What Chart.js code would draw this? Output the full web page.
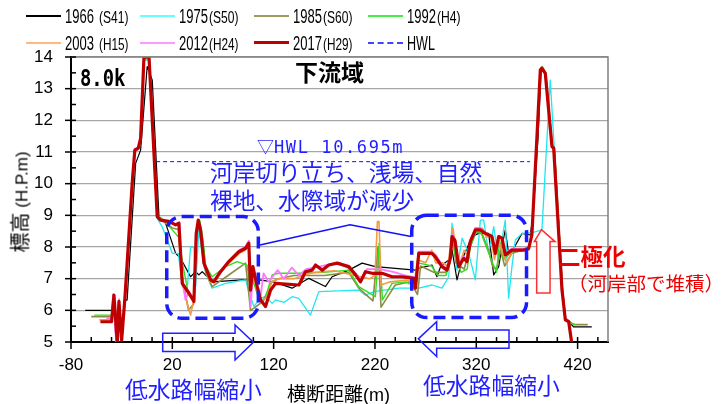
<!DOCTYPE html>
<html>
<head>
<meta charset="utf-8">
<script src="https://cdn.jsdelivr.net/npm/chart.js@4.4.1/dist/chart.umd.min.js"></script>
<style>
html, body { margin: 0; padding: 0; background: #fff; }
#wrap { position: relative; width: 727px; height: 404px; overflow: hidden; font-family: "Noto Sans CJK JP", sans-serif; }
#chart { position: absolute; left: 0; top: 0; }
.t { position: absolute; white-space: nowrap; line-height: 1; }
.lg { position: absolute; height: 0; }
.lgt { position: absolute; white-space: nowrap; line-height: 1; font-family: "Liberation Sans", sans-serif; color: #000; transform-origin: 0 50%; }
.blue { color: #1f1fff; }
.red { color: #ee0000; }
</style>
</head>
<body>
<div id="wrap">
  <canvas id="chart" width="727" height="404"></canvas>
  <div id="legend"></div>
  <div class="t" style="left:80px;top:65px;font:bold 23px 'DejaVu Sans Mono',monospace;transform:scaleX(0.82);transform-origin:0 0;">8.0k</div>
  <div class="t" style="left:295px;top:60px;font-weight:bold;font-size:23px;">下流域</div>
  <div class="t blue" style="left:257px;top:137px;font-size:17px;"><span>▽</span><span style="font-family:'DejaVu Sans Mono',monospace;letter-spacing:1.6px;">HWL 10.695m</span></div>
  <div class="t blue" style="left:210px;top:161px;font-size:22.7px;">河岸切り立ち、浅場、自然</div>
  <div class="t blue" style="left:210px;top:189px;font-size:22.7px;">裸地、水際域が減少</div>
  <div class="t blue" style="left:125px;top:378px;font-size:22.8px;">低水路幅縮小</div>
  <div class="t blue" style="left:423px;top:374px;font-size:22.8px;">低水路幅縮小</div>
  <div class="t" style="left:287px;top:383px;font-size:19px;">横断距離<span style="font-family:'Liberation Sans',sans-serif;font-size:18px;">(m)</span></div>
  <div class="t red" style="left:558px;top:244px;font-weight:bold;font-size:22.5px;">二極化</div>
  <div class="t red" style="left:568px;top:273px;font-size:19.5px;">（河岸部で堆積）</div>
  <div class="t" style="left:20px;top:202px;transform:translate(-50%,-50%) rotate(-90deg);"><span style="font-size:20px;">標高</span><span style="font-family:'Liberation Sans',sans-serif;font-size:17px;"> (H.P.m)</span></div>
</div>
<script>
// ===========================
// Data
// ===========================

const years = ['1966', '1975', '1985', '1992', '2003', '2012', '2017'];
const eras = ['(S41)', '(S50)', '(S60)', '(H4)', '(H15)', '(H24)', '(H29)'];

const xTicks = [-80, 20, 120, 220, 320, 420];
const yTicks = [5, 6, 7, 8, 9, 10, 11, 12, 13, 14];

// [distance m, elevation H.P.m]
const s1966 = [[-66,6.0],[-39.5,6.0],[-38,6.4],[-35,5.0],[-32.5,6.3],[-30,5.1],[-27,6.3],[-24.6,6.33],[-16.2,10.64],[-11.3,11.06],[-4.8,13.7],[0.2,13.27],[6.8,8.96],[13.4,8.75],[16.7,8.43],[23.3,7.8],[28.2,7.64],[38,7.06],[43,7.22],[46.2,7.12],[49.5,7.22],[59.3,6.9],[88.9,6.96],[105.4,6.96],[120,6.9],[138.2,6.7],[154.7,7.01],[171.1,6.75],[177.7,7.06],[194.2,7.27],[207.3,7.49],[220.4,7.38],[259.9,7.27],[263.2,7.33],[276.3,7.43],[281.2,7.06],[285,7.4],[292.8,7.59],[296.1,7.9],[301,6.96],[306,7.6],[315.8,8.33],[322.4,8.43],[332.2,8.43],[337.2,7.12],[342.1,7.38],[345.4,8.01],[348.6,8.54],[351.9,7.8],[356,7.9],[365.1,8.43],[373.3,8.38],[376,9.0],[381,11.5],[384,13.6],[388,13.5],[394.7,11.2],[397,11.1],[405,6.7],[408,5.75],[416,5.48],[434,5.48]];

const s1975 = [[-40,5.9],[-38,6.4],[-35,5.0],[-32.5,6.3],[-30,5.1],[-27,6.4],[-20,10.0],[-17,11.0],[-13,11.1],[-11,11.4],[-8,13.9],[-3,13.9],[5,8.9],[10,8.64],[20,7.8],[26,7.8],[29.8,6.75],[35,6.8],[38,8.0],[41.3,8.0],[43,6.75],[46.2,8.54],[51.2,7.38],[54.4,7.06],[59.3,6.7],[72.5,6.85],[92.3,6.96],[95.5,6.59],[100.5,6.12],[105.4,6.33],[112,6.45],[118.5,6.22],[121.9,6.33],[130,6.25],[138.2,6.43],[144.8,6.38],[156.3,5.85],[164.6,6.59],[204,6.64],[210.6,6.48],[220,6.6],[243.5,6.7],[263.2,6.7],[276.3,6.8],[286.2,6.7],[292.8,7.06],[296.1,8.75],[301,7.27],[306,8.28],[312.5,7.8],[319.1,6.96],[324,8.85],[327.3,8.85],[332.2,7.8],[337.2,8.64],[342,7.6],[348.6,8.85],[351.9,6.38],[355.2,7.38],[358.5,8.22],[365.1,8.43],[375,8.45],[384.8,8.54],[393,13.27],[397,11.1],[405,6.7],[408,5.7],[414,5.6]];

const s1985 = [[-60,5.8],[-40,5.8],[-38,6.45],[-35.3,5.0],[-32.7,6.3],[-30,5.1],[-26.5,6.5],[-19.5,10.1],[-17,11.05],[-13.6,11.1],[-11.3,11.45],[-8,13.95],[-3,13.95],[5,8.95],[10,8.85],[20,8.6],[26,8.55],[30,7.0],[36,6.0],[41,6.2],[44,8.4],[47,8.7],[50,8.2],[53,7.2],[59.3,6.75],[75,7.1],[92.3,7.49],[97.2,6.0],[102,6.1],[110,6.3],[118,6.9],[125,7.0],[140,7.1],[170,7.1],[194,7.2],[204,6.7],[218,6.3],[223,8.0],[226,6.1],[232,6.4],[240,6.8],[255,6.9],[262,6.5],[265,7.4],[278,7.2],[290,7.2],[294,7.5],[296,8.4],[300,7.5],[308,7.3],[314,8.0],[320,8.5],[326,8.4],[332,7.9],[336,7.4],[340,7.3],[344,7.9],[348,7.4],[355,7.8],[366,7.9],[372,8.0],[375,8.4],[380,11.5],[383.5,13.65],[385,13.7],[388.5,13.5],[395,11.2],[397,11.15],[405,6.7],[408,5.75],[416,5.55],[430,5.55]];

const s1992 = [[-57,5.85],[-40,5.85],[-38,6.45],[-35.3,5.0],[-32.7,6.3],[-30,5.1],[-26.5,6.5],[-19.5,10.1],[-17,11.05],[-13.6,11.1],[-11.3,11.45],[-8,13.95],[-3,13.95],[5,9.0],[10,8.9],[20,8.54],[26.5,8.3],[30,7.5],[36,6.5],[41,6.3],[44,8.5],[47,8.85],[50,8.3],[53,7.4],[59.3,7.06],[72.5,7.38],[84,7.54],[93.9,7.43],[97,6.6],[100,6.9],[104,6.5],[108,6.3],[112,6.4],[118.5,7.12],[125,7.17],[144.8,7.17],[170,7.2],[194.2,7.27],[204,6.75],[220.4,6.43],[224.1,8.12],[227.4,6.33],[236.9,6.85],[250,6.9],[260,6.75],[263,7.5],[276,7.4],[282,7.1],[290,7.1],[294,7.5],[296,8.45],[300,7.6],[305,7.2],[311,7.3],[314,8.0],[319,8.45],[324,8.5],[330,8.0],[336,7.5],[340,7.2],[343,8.2],[347,7.6],[355,7.85],[366,7.9],[372,8.0],[375,8.4],[380,11.5],[383.5,13.6],[385,13.64],[388.5,13.5],[395,11.2],[397,11.1],[405,6.7],[408,5.7],[412,5.6],[418,5.55]];

const s2003 = [[-52,5.7],[-40,5.7],[-38,6.45],[-35.3,5.0],[-32.7,6.3],[-30,5.1],[-26.5,6.5],[-19.5,10.06],[-17,11.06],[-13.6,11.12],[-11.3,11.43],[-8,14],[-3,14],[5,8.95],[10,8.85],[20,8.75],[26,8.7],[29,7.0],[34,6.3],[38,5.85],[41,6.3],[43.6,8.4],[45.6,8.8],[48,8.45],[51,7.5],[57,6.9],[61,6.9],[68,7.2],[76,7.5],[86,7.8],[92,7.9],[95.5,8.05],[97.2,6.5],[100,7.1],[104,6.6],[108,6.3],[113,6.4],[118,6.9],[125,7.0],[140,7.0],[160,7.2],[180,7.25],[200,7.1],[215,7.0],[220,7.1],[222.4,8.8],[224,8.8],[226,6.8],[235,6.9],[250,6.95],[259,6.9],[262,7.6],[270,7.5],[276,7.9],[280,7.5],[287,7.5],[292,7.4],[295,8.2],[297,8.6],[300,7.9],[304,7.5],[308,7.9],[312,7.7],[315,8.3],[320,8.5],[326,8.6],[330,8.3],[334,8.4],[338,7.6],[342,8.2],[346,7.8],[350,7.5],[356,7.9],[366,7.9],[372,7.9],[375,8.4],[380,11.5],[383,13.6],[385,13.64],[388,13.5],[395,11.17],[397,11.1],[405,6.65],[408,5.7],[412,5.6]];

const s2012 = [[-45,5.75],[-40,5.75],[-38.5,6.5],[-35.5,5.0],[-32.5,6.35],[-30,5.1],[-27,6.3],[-26,6.6],[-19.5,10.1],[-17,11.1],[-13.6,11.15],[-11.3,11.45],[-8,14],[-3,14],[5,9.0],[8.4,8.88],[17,8.83],[23.3,8.72],[27,8.78],[30,6.9],[33,6.33],[36.4,6.6],[41.3,6.35],[43.6,8.45],[45.6,8.85],[48,8.55],[51,7.5],[58,6.98],[61,6.95],[68,7.25],[76,7.58],[86,7.9],[92,8.0],[95.5,8.2],[97.2,6.1],[100,7.3],[104,6.8],[107,6.4],[110,7.17],[115,6.9],[124,7.27],[130,7.0],[138,7.35],[145,7.1],[152,7.3],[160,7.35],[175,7.45],[185,7.5],[200,7.2],[206,7.0],[212,7.3],[225,7.3],[240,7.2],[250,7.1],[259,7.05],[260.5,6.8],[263,7.85],[276,7.85],[280,7.75],[286,7.45],[291,7.3],[294.4,7.7],[296.1,8.4],[299,8.25],[302.6,7.45],[307.6,7.7],[311,7.6],[314,8.2],[319,8.6],[324,8.6],[329,8.45],[335.5,8.35],[338.8,7.85],[342,8.35],[345.4,8.3],[348.6,7.8],[355,7.95],[366.7,7.95],[372,8.0],[375,8.4],[380,11.5],[383.2,13.6],[384.8,13.65],[388,13.5],[394.7,11.2],[396.4,11.15],[404.6,6.7],[408,5.75],[411,5.65]];

const s2017 = [[-51,5.64],[-40,5.64],[-37.6,6.48],[-34.3,4.96],[-32.7,6.28],[-30,5.06],[-26.7,6.43],[-19.5,10.06],[-17,11.06],[-13.6,11.12],[-11.3,11.43],[-8,14.0],[-3,14.0],[5.1,8.96],[8.4,8.85],[17,8.8],[23.3,8.7],[26.5,8.75],[29.8,6.85],[36.4,6.54],[41.3,6.28],[43.6,8.43],[45.6,8.85],[47.9,8.54],[51.2,7.49],[57.8,6.96],[61,6.9],[67.6,7.22],[75.8,7.54],[85.7,7.85],[92.3,7.96],[95.5,8.12],[97.2,6.64],[99.5,7.38],[103.8,6.75],[107.1,6.33],[112,6.12],[117,6.64],[121.9,6.85],[145,6.8],[151.4,7.22],[158,7.27],[161.3,7.43],[168,7.27],[174.4,7.43],[182.6,7.49],[194.2,7.38],[200.8,7.12],[205.7,6.9],[210.6,7.22],[217.2,7.17],[227,7.17],[236.9,7.06],[246.8,7.06],[258.3,7.01],[260,6.7],[263.2,7.8],[276.3,7.8],[279.6,7.69],[286.2,7.38],[291.1,7.27],[294.4,7.64],[296.1,8.33],[299,8.2],[302.6,7.38],[307.6,7.64],[310.8,7.54],[314.1,8.17],[319.1,8.54],[324,8.54],[329,8.43],[335.5,8.33],[338.8,7.8],[342.1,8.33],[345.4,8.28],[348.6,7.75],[355.2,7.9],[366.7,7.9],[371.7,7.96],[374.9,8.38],[379.9,11.5],[383.2,13.59],[384.8,13.64],[388.1,13.48],[394.7,11.17],[396.4,11.12],[404.6,6.64],[407.9,5.7],[411.2,5.64],[414.5,4.9]];

const hwlX = [4, 373];
const hwlLevel = 10.695;

// ===========================
// Styles
// ===========================

const seriesData = [s1966, s1975, s1985, s1992, s2003, s2012, s2017];
const lineColors = ['#000000', '#22e6f0', '#8c8c46', '#33dd22', '#f39a45', '#ff77ff', '#c00000'];
const legendColors = ['#000000', '#66ffff', '#9b9b63', '#44ee44', '#ffb880', '#ff99ff', '#c00000'];
const lineWidths = [1.2, 1.3, 1.6, 1.4, 1.6, 1.8, 3.2];
const hwlColor = '#1010ff';

// annotation shapes, in data coordinates
const boxes = [
    { x0: 14.5, x1: 104.9, y0: 8.96, y1: 5.75 },
    { x0: 256.3, x1: 369.6, y0: 9.0, y1: 5.77 }
];
const linkPath = [[106.5, 8.06], [195.4, 8.70], [255.6, 8.33]];

// ===========================
// Legend
// ===========================

// place a text at (left, centre y) squeezed to a given width
function fitText(parent, text, left, cy, size, width) {
    const d = document.createElement('div');
    d.className = 'lgt';
    d.style.fontSize = size + 'px';
    d.textContent = text;
    parent.appendChild(d);
    const w = d.getBoundingClientRect().width;
    const h = d.getBoundingClientRect().height;
    d.style.left = left + 'px';
    d.style.top = (cy - h / 2) + 'px';
    d.style.transform = 'scaleX(' + (width / w) + ')';
}

function buildLegend() {
    const el = document.getElementById('legend');
    const colX = [26, 140, 254, 368];
    const rowY = [16, 43];
    const items = years.map((y, i) => ({ text: y, era: eras[i], color: legendColors[i], width: i === 6 ? 3.5 : 2.5, dash: false }));
    items.push({ text: 'HWL', era: '', color: '#4444ff', width: 2, dash: true });
    items.forEach((it, i) => {
        const cx = colX[i % 4], cy = rowY[Math.floor(i / 4)];
        const line = document.createElement('div');
        line.className = 'lg';
        line.style.left = cx + 'px';
        line.style.top = (cy - it.width / 2) + 'px';
        line.style.width = '35px';
        line.style.borderTop = it.width + 'px ' + (it.dash ? 'dashed ' : 'solid ') + it.color;
        el.appendChild(line);
        const gap = (i === 0 || i === 4) ? 5 : 1;
        fitText(el, it.text, cx + 39, cy, 20, it.era ? 29 : 28);
        if (it.era) {
            fitText(el, it.era, cx + 39 + 29 + gap, cy + 1, 16.5, it.era.length * 5.9);
        }
    });
}

// ===========================
// Decorations plugin
// ===========================

const decor = {
    id: 'decor',
    afterDraw(chart) {
        const { ctx, chartArea: a, scales: { x, y } } = chart;
        const X = v => x.getPixelForValue(v);
        const Y = v => y.getPixelForValue(v);
        ctx.save();

        // frame top / right
        ctx.strokeStyle = '#808080';
        ctx.lineWidth = 1.5;
        ctx.beginPath();
        ctx.moveTo(a.left, a.top);
        ctx.lineTo(a.right, a.top);
        ctx.lineTo(a.right, a.bottom);
        ctx.stroke();

        // tick marks
        ctx.strokeStyle = '#000';
        ctx.lineWidth = 1.5;
        for (let v = 5; v <= 14; v += 0.5) {
            const py = Y(v);
            ctx.beginPath();
            ctx.moveTo(a.left - (v % 1 ? 0 : 6), py);
            ctx.lineTo(a.left + 5, py);
            ctx.stroke();
        }
        for (let v = -80; v <= 440; v += 20) {
            const px = X(v);
            const major = (v + 80) % 100 === 0;
            ctx.beginPath();
            ctx.moveTo(px, a.bottom - 5);
            ctx.lineTo(px, a.bottom + (major ? 7 : 0));
            ctx.stroke();
        }

        // link lines from the text to the boxes
        ctx.strokeStyle = '#1010ff';
        ctx.lineWidth = 1.5;
        ctx.beginPath();
        linkPath.forEach((p, i) => i ? ctx.lineTo(X(p[0]), Y(p[1])) : ctx.moveTo(X(p[0]), Y(p[1])));
        ctx.stroke();

        // dashed rounded boxes
        ctx.strokeStyle = '#1a1aff';
        ctx.lineWidth = 3.5;
        ctx.setLineDash([12, 6]);
        boxes.forEach(b => {
            ctx.beginPath();
            ctx.roundRect(X(b.x0), Y(b.y0), X(b.x1) - X(b.x0), Y(b.y1) - Y(b.y0), 15);
            ctx.stroke();
        });
        ctx.setLineDash([]);

        // hollow arrows
        const arrow = (pts, stroke, fill) => {
            ctx.beginPath();
            pts.forEach((p, i) => i ? ctx.lineTo(X(p[0]), Y(p[1])) : ctx.moveTo(X(p[0]), Y(p[1])));
            ctx.closePath();
            if (fill) { ctx.fillStyle = fill; ctx.fill(); }
            ctx.strokeStyle = stroke;
            ctx.lineWidth = 1.5;
            ctx.stroke();
        };
        arrow([[10.5, 5.28], [81.9, 5.28], [81.9, 5.54], [100, 4.99], [81.9, 4.43], [81.9, 4.70], [10.5, 4.70]], '#2020ff');
        arrow([[352.3, 5.38], [280.9, 5.38], [280.9, 5.64], [262.8, 5.10], [280.9, 4.54], [280.9, 4.80], [352.3, 4.80]], '#2020ff');
        arrow([[379.6, 6.55], [379.6, 8.17], [377.3, 8.17], [384.4, 8.55], [397.7, 8.17], [392.8, 8.17], [392.8, 6.55]], '#ff3030', '#ffffff');

        ctx.restore();
    }
};

// ===========================
// Chart
// ===========================

function initializeChart() {
    const ctx = document.getElementById('chart');

    const datasets = seriesData.map((s, i) => ({
        label: years[i],
        data: s.map(p => ({ x: p[0], y: p[1] })),
        showLine: true,
        borderColor: lineColors[i],
        backgroundColor: lineColors[i],
        borderWidth: lineWidths[i],
        borderJoinStyle: 'round',
        pointRadius: 0,
        tension: 0,
        order: 7 - i
    }));
    datasets.push({
        label: 'HWL',
        data: hwlX.map(v => ({ x: v, y: hwlLevel })),
        showLine: true,
        borderColor: hwlColor,
        borderWidth: 1,
        borderDash: [4, 3],
        pointRadius: 0,
        order: 0
    });

    new Chart(ctx, {
        type: 'scatter',
        data: { datasets },
        options: {
            responsive: false,
            animation: false,
            devicePixelRatio: 1,
            layout: { padding: { left: 0, top: 57, right: 119, bottom: 0 } },
            plugins: {
                legend: { display: false },
                tooltip: { enabled: false }
            },
            scales: {
                x: {
                    type: 'linear',
                    min: -80,
                    max: 450,
                    afterBuildTicks: s => { s.ticks = xTicks.map(v => ({ value: v })); },
                    afterFit: s => { s.height = 62; },
                    grid: { display: false, drawTicks: false },
                    border: { display: true, color: '#000', width: 2 },
                    ticks: {
                        color: '#000',
                        padding: 13,
                        maxRotation: 0,
                        autoSkip: false,
                        font: { family: 'Liberation Sans', size: 17 }
                    }
                },
                y: {
                    type: 'linear',
                    min: 5,
                    max: 14,
                    afterBuildTicks: s => { s.ticks = yTicks.map(v => ({ value: v })); },
                    afterFit: s => { s.width = 71; },
                    grid: { color: '#a6a6a6', lineWidth: 1.3, drawTicks: false },
                    border: { color: '#000', width: 2 },
                    ticks: {
                        color: '#000',
                        padding: 18,
                        font: { family: 'Liberation Sans', size: 17 }
                    }
                }
            }
        },
        plugins: [decor]
    });
}

buildLegend();
initializeChart();
</script>
</body>
</html>
